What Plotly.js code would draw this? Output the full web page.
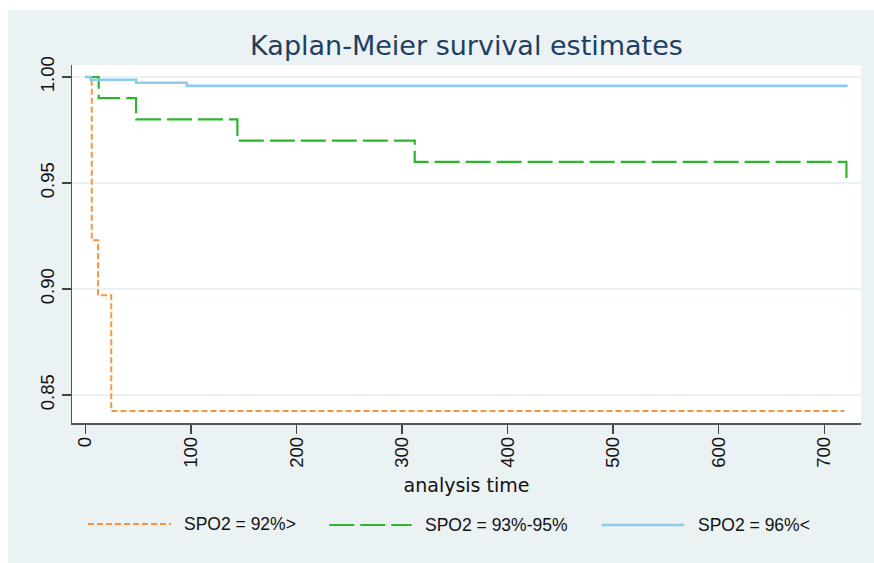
<!DOCTYPE html>
<html>
<head>
<meta charset="utf-8">
<script src="https://cdn.plot.ly/plotly-3.0.1.min.js"></script>
<style>
  html, body { margin: 0; padding: 0; background: #ffffff; }
  #chart { width: 874px; height: 563px; }
</style>
</head>
<body>
<div id="chart"></div>
<script>
// ---- data ----
const seriesNames = ['SPO2 = 92%>', 'SPO2 = 93%-95%', 'SPO2 = 96%<'];

const timeLow  = [0, 6, 12, 24.5, 719];
const survLow  = [1.0, 0.923, 0.897, 0.8425, 0.8425];

const timeMid  = [0, 12.6, 48, 144, 312, 721];
const survMid  = [1.0, 0.99, 0.98, 0.97, 0.96, 0.95];

const timeHigh = [0, 5, 48, 96, 722];
const survHigh = [1.0, 0.9987, 0.9973, 0.9958, 0.9958];

const xTicks = [0, 100, 200, 300, 400, 500, 600, 700];
const yTicks = [0.85, 0.90, 0.95, 1.00];
const yTickText = ['0.85', '0.90', '0.95', '1.00'];

const colors = ['#F7943D', '#2DB52D', '#8DCBEA'];
const dashes = ['6px,3px', '25px,6px', 'solid'];
const widths = [2, 2.2, 2.6];

const traces = [
  {x: timeLow,  y: survLow},
  {x: timeMid,  y: survMid},
  {x: timeHigh, y: survHigh}
].map((d, i) => ({
  x: d.x, y: d.y, type: 'scatter', mode: 'lines', name: seriesNames[i],
  line: {shape: 'hv', color: colors[i], dash: dashes[i], width: widths[i]},
  showlegend: false, hoverinfo: 'x+y+name'
}));

// ---- custom legend (shapes + text) ----
const legendY = [-0.2821, -0.2849, -0.2849];
const legendX0 = [0.0203, 0.3261, 0.6714];
const legendX1 = [0.1255, 0.4305, 0.7757];
const legendTx = [0.1390, 0.4450, 0.7905];

const shapes = [
  // white margin strips outside the grey-blue panel
  {type: 'rect', xref: 'paper', yref: 'paper', x0: -0.10, x1: -0.0811, y0: -0.5, y1: 1.25,
   fillcolor: '#ffffff', line: {width: 0}, layer: 'below'},
  {type: 'rect', xref: 'paper', yref: 'paper', x0: -0.10, x1: 1.1, y0: 1.1536, y1: 1.25,
   fillcolor: '#ffffff', line: {width: 0}, layer: 'below'}
];
const annotations = [];
seriesNames.forEach((nm, i) => {
  shapes.push({type: 'line', xref: 'paper', yref: 'paper',
    x0: legendX0[i], x1: legendX1[i], y0: legendY[i], y1: legendY[i],
    line: {color: colors[i], dash: dashes[i], width: widths[i]}});
  annotations.push({xref: 'paper', yref: 'paper', x: legendTx[i], y: legendY[i],
    xanchor: 'left', yanchor: 'middle', showarrow: false,
    text: nm.replace(/</g, '&lt;').replace(/>/g, '&gt;'),
    font: {family: 'Liberation Sans, Arial, sans-serif', size: 17.5, color: '#111111'}});
});

const layout = {
  width: 874, height: 563,
  margin: {l: 72, r: 13, t: 65, b: 140},
  paper_bgcolor: '#EAF2F3',
  plot_bgcolor: '#ffffff',
  title: {
    text: 'Kaplan-Meier survival estimates',
    font: {family: 'DejaVu Sans, sans-serif', size: 27, color: '#1E3E64'},
    x: 0.5, xref: 'paper', xanchor: 'center',
    y: 1 - 46 / 563, yref: 'container', yanchor: 'middle'
  },
  xaxis: {
    range: [-12.7, 734.8],
    tickvals: xTicks, ticktext: xTicks.map(String),
    tickangle: -90,
    ticklabelstandoff: -4,
    ticks: 'outside', ticklen: 9, tickwidth: 1.5, tickcolor: '#444444',
    showline: true, linecolor: '#555555', linewidth: 1.5,
    showgrid: false, zeroline: false,
    tickfont: {family: 'Liberation Sans, Arial, sans-serif', size: 18.5, color: '#111111'},
    title: {text: 'analysis time', standoff: 12,
      font: {family: 'DejaVu Sans, sans-serif', size: 19, color: '#111111'}},
    fixedrange: true
  },
  yaxis: {
    range: [0.8368, 1.00566],
    tickvals: yTicks, ticktext: yTickText,
    tickangle: -90,
    ticks: 'outside', ticklen: 9, tickwidth: 1.5, tickcolor: '#444444',
    showline: true, linecolor: '#555555', linewidth: 1.5,
    showgrid: true, gridcolor: '#EAF2F3', gridwidth: 1.6,
    zeroline: false,
    tickfont: {family: 'Liberation Sans, Arial, sans-serif', size: 18.5, color: '#111111'},
    fixedrange: true
  },
  shapes: shapes,
  annotations: annotations,
  showlegend: false
};

Plotly.newPlot('chart', traces, layout, {displayModeBar: false, staticPlot: true});
</script>
</body>
</html>
